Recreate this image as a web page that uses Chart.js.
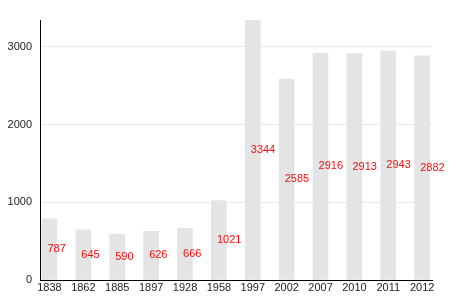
<!DOCTYPE html>
<html>
<head>
<meta charset="utf-8">
<script src="https://cdn.jsdelivr.net/npm/chart.js@4"></script>
<style>
	body { margin: 0; background: #fff; }
	#wrap { width: 470px; height: 300px; }
</style>
</head>
<body>
<div id="wrap"><canvas id="popChart"></canvas></div>
<script>
const years = ["1838", "1862", "1885", "1897", "1928", "1958", "1997", "2002", "2007", "2010", "2011", "2012"];
const population = [787, 645, 590, 626, 666, 1021, 3344, 2585, 2916, 2913, 2943, 2882];
const yTicks = [0, 1000, 2000, 3000];

const valueLabels = {
	id: "valueLabels",
	afterDatasetsDraw(chart) {
		const ctx = chart.ctx;
		const meta = chart.getDatasetMeta(0);
		ctx.save();
		ctx.fillStyle = "#ee1111";
		ctx.font = "11px 'Liberation Sans', Arial, sans-serif";
		ctx.textAlign = "left";
		ctx.textBaseline = "middle";
		meta.data.forEach((bar, i) => {
			const midY = (bar.y + bar.base) / 2;
			ctx.fillText(String(population[i]), bar.x - 2, midY);
		});
		ctx.restore();
	}
};

function barFill(context) {
	const bar = context.element;
	if (!bar || bar.x === undefined) return "#e4e4e4";
	const c = context.chart.ctx;
	const g = c.createLinearGradient(bar.x - 8, 0, bar.x + 8, 0);
	g.addColorStop(0, "#efefef");
	g.addColorStop(0.3, "#e2e2e2");
	g.addColorStop(0.7, "#e2e2e2");
	g.addColorStop(1, "#efefef");
	return g;
}

new Chart(document.getElementById("popChart"), {
	type: "bar",
	data: {
		datasets: [{
			data: population.map((v, i) => ({ x: i, y: v })),
			backgroundColor: barFill,
			barThickness: 15,
			borderWidth: 0
		}]
	},
	options: {
		responsive: true,
		maintainAspectRatio: false,
		animation: false,
		layout: { padding: { top: 20, right: 38, left: 0, bottom: 0 } },
		plugins: { legend: { display: false }, tooltip: { enabled: false } },
		scales: {
			x: {
				type: "linear",
				offset: false,
				min: -0.28,
				max: 11.29,
				afterBuildTicks(scale) {
					scale.ticks = years.map((y, i) => ({ value: i }));
				},
				afterFit(scale) { scale.height = 20; },
				ticks: {
					autoSkip: false,
					maxRotation: 0,
					padding: 1,
					color: "#222",
					font: { size: 11, family: "'Liberation Sans', Arial, sans-serif" },
					callback: (v) => years[v]
				},
				grid: { display: false, drawTicks: false },
				border: { color: "#000", width: 1 }
			},
			y: {
				min: 0,
				max: 3344,
				afterBuildTicks(scale) {
					scale.ticks = yTicks.map(v => ({ value: v }));
				},
				afterFit(scale) { scale.width = 40; },
				ticks: {
					padding: 8,
					color: "#222",
					font: { size: 11, family: "'Liberation Sans', Arial, sans-serif" },
					callback: (v) => String(v)
				},
				grid: { color: "#e8e8e8", drawTicks: false },
				border: { color: "#000", width: 1 }
			}
		}
	},
	plugins: [valueLabels]
});
</script>
</body>
</html>
